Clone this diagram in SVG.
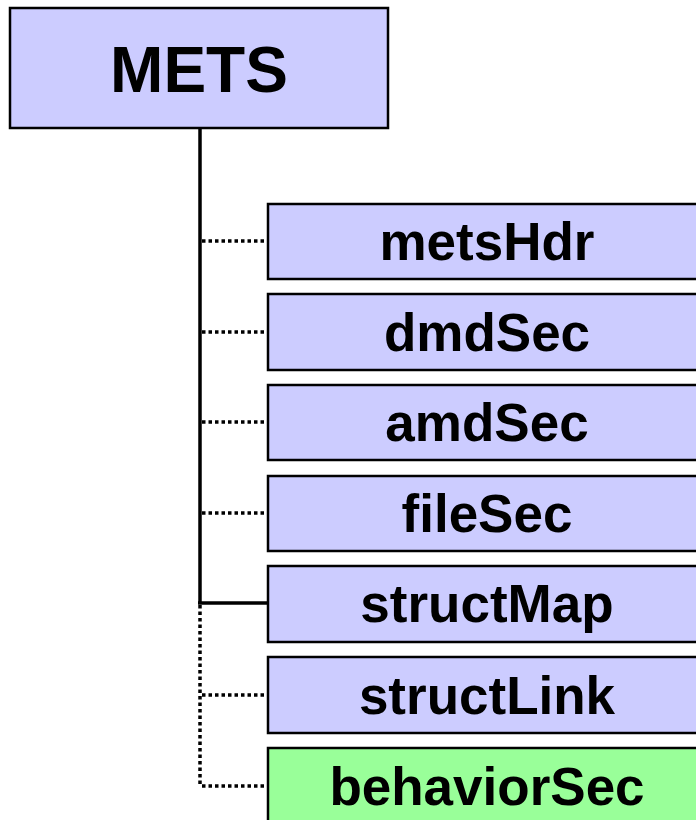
<svg xmlns="http://www.w3.org/2000/svg" width="696" height="820" viewBox="0 0 696 820">
<style>
.box{fill:#CCCCFF;stroke:#000;stroke-width:2.5}
.green{fill:#99FF99}
.lbl{font-family:"Liberation Sans",Arial,sans-serif;font-weight:bold;font-size:53px;text-anchor:middle;fill:#000}
.solid{stroke:#000;stroke-width:3.5;fill:none}
.dot{stroke:#000;stroke-width:3.5;stroke-dasharray:3.5 3;fill:none}
</style>
<rect width="696" height="820" fill="#fff"/>
<g id="connectors">
<line class="solid" x1="200" y1="128" x2="200" y2="603"/>
<line class="solid" x1="198" y1="603" x2="268" y2="603"/>
<line class="dot" x1="200" y1="605" x2="200" y2="787"/>
<line class="dot" x1="202" y1="241" x2="268" y2="241"/>
<line class="dot" x1="202" y1="332" x2="268" y2="332"/>
<line class="dot" x1="202" y1="422" x2="268" y2="422"/>
<line class="dot" x1="202" y1="513" x2="268" y2="513"/>
<line class="dot" x1="202" y1="695" x2="268" y2="695"/>
<line class="dot" x1="202" y1="786" x2="268" y2="786"/>
</g>
<g id="mets">
<rect class="box" x="10" y="8" width="378" height="120" stroke-width="3"/>
<text class="lbl" x="199" y="92" style="font-size:64px">METS</text>
</g>
<g id="metsHdr">
<rect class="box" x="268" y="204" width="440" height="75"/>
<text class="lbl" x="487" y="260">metsHdr</text>
</g>
<g id="dmdSec">
<rect class="box" x="268" y="294" width="440" height="76"/>
<text class="lbl" x="487" y="351">dmdSec</text>
</g>
<g id="amdSec">
<rect class="box" x="268" y="385" width="440" height="75"/>
<text class="lbl" x="487" y="441">amdSec</text>
</g>
<g id="fileSec">
<rect class="box" x="268" y="476" width="440" height="75"/>
<text class="lbl" x="487" y="532">fileSec</text>
</g>
<g id="structMap">
<rect class="box" x="268" y="566" width="440" height="76"/>
<text class="lbl" x="487" y="622">structMap</text>
</g>
<g id="structLink">
<rect class="box" x="268" y="657" width="440" height="76"/>
<text class="lbl" x="487" y="714">structLink</text>
</g>
<g id="behaviorSec">
<rect class="box green" x="268" y="748" width="440" height="80"/>
<text class="lbl" x="487" y="805">behaviorSec</text>
</g>
</svg>
